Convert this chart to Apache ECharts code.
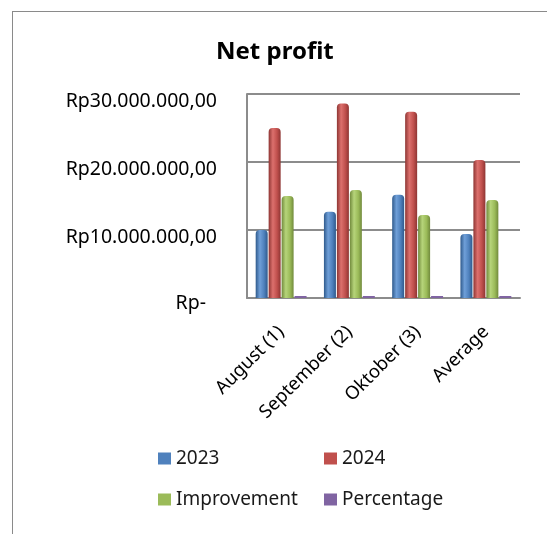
<!DOCTYPE html>
<html>
<head>
<meta charset="utf-8">
<style>
  html, body { margin: 0; padding: 0; background: #fff; }
  #frame { position: absolute; left: 12px; top: 11px; width: 560px; height: 560px; border: 1px solid #8a8a8a; }
  #main { position: absolute; left: 0; top: 0; width: 547px; height: 534px; }
</style>
<script src="https://cdn.jsdelivr.net/npm/echarts@6/dist/echarts.min.js"></script>
</head>
<body>
<div id="frame"></div>
<div id="main"></div>
<script>
var categories = ['August (1)', 'September (2)', 'Oktober (3)', 'Average'];
var y2023 = [10000000, 12700000, 15200000, 9400000];
var y2024 = [25000000, 28600000, 27400000, 20300000];
var improvement = [15000000, 15900000, 12200000, 14400000];
var percentage = [1.5, 1.25, 0.8, 1.2];
var yTicks = [0, 10000000, 20000000, 30000000];

var colors = { '2023': '#4f81bd', '2024': '#c0504d', 'Improvement': '#9bbb59', 'Percentage': '#8064a2' };

function cylinder(dark, mid, light) {
    return new echarts.graphic.LinearGradient(0, 0, 1, 0, [
        { offset: 0, color: dark },
        { offset: 0.35, color: light },
        { offset: 0.7, color: mid },
        { offset: 1, color: dark }
    ]);
}

function fmtRp(v) {
    if (v === 0) return '{z|Rp-}';
    var s = String(v).replace(/\B(?=(\d{3})+(?!\d))/g, '.');
    return '{n|Rp' + s + ',00}';
}

var chart = echarts.init(document.getElementById('main'));

var font = 'Noto Sans';

function legendAt(name, left, top) {
    return {
        data: [{ name: name, itemStyle: { color: colors[name] } }],
        left: left, top: top,
        itemWidth: 13, itemHeight: 12, icon: 'rect', itemGap: 6,
        textStyle: { fontSize: 19, color: '#1a1a1a', fontFamily: font }
    };
}

var option = {
    animation: false,
    textStyle: { fontFamily: font },
    title: {
        text: 'Net profit',
        left: 211, top: 35,
        textStyle: { fontSize: 24, fontWeight: 'bold', color: '#000', fontFamily: font }
    },
    legend: [
        legendAt('2023', 153, 444),
        legendAt('2024', 319, 444),
        legendAt('Improvement', 153, 485),
        legendAt('Percentage', 319, 485)
    ],
    grid: { left: 247, right: 27, top: 94, bottom: 236, containLabel: false },
    xAxis: {
        type: 'category',
        data: categories,
        axisLine: { show: true, lineStyle: { color: '#8c8c8c', width: 2 } },
        axisTick: { show: false },
        axisLabel: { rotate: 45, margin: 31, fontSize: 18.5, color: '#000', fontFamily: font, interval: 0 }
    },
    yAxis: {
        type: 'value',
        min: 0, max: 30000000, interval: 10000000,
        axisLine: { show: true, lineStyle: { color: '#8c8c8c', width: 2 } },
        axisTick: { show: false },
        splitLine: { show: true, lineStyle: { color: '#8c8c8c', width: 2 } },
        axisLabel: {
            color: '#000', fontFamily: font, margin: 30,
            formatter: function (v) { return yTicks.indexOf(v) >= 0 ? fmtRp(v) : ''; },
            rich: {
                n: { fontSize: 19.5, color: '#000', fontFamily: font, padding: [14, 0, 0, 0] },
                z: { fontSize: 19.5, color: '#000', fontFamily: font, padding: [11, 11, 0, 0] }
            }
        }
    },
    series: [
        { name: '2023', type: 'bar', data: y2023, barWidth: 12, barGap: '8%', barCategoryGap: '30%',
          itemStyle: { color: cylinder('#2f5a8c', '#4f81bd', '#6f9fd8'), borderRadius: [4, 4, 0, 0] } },
        { name: '2024', type: 'bar', data: y2024, barWidth: 12,
          itemStyle: { color: cylinder('#8e3533', '#c0504d', '#dc706d'), borderRadius: [4, 4, 0, 0] } },
        { name: 'Improvement', type: 'bar', data: improvement, barWidth: 12,
          itemStyle: { color: cylinder('#718a3c', '#9bbb59', '#b6d47a'), borderRadius: [4, 4, 0, 0] } },
        { name: 'Percentage', type: 'bar', data: percentage, barWidth: 12, barMinHeight: 2,
          itemStyle: { color: '#8064a2' } }
    ]
};

chart.setOption(option);
</script>
</body>
</html>
